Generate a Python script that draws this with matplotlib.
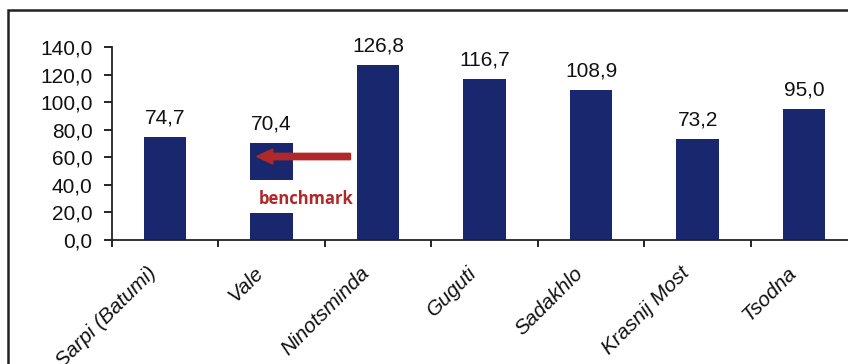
import matplotlib
matplotlib.use("Agg")
import matplotlib.pyplot as plt
from matplotlib.patches import Rectangle, FancyArrow

# border crossing, index value
crossings = ["Sarpi (Batumi)", "Vale", "Ninotsminda", "Guguti",
             "Sadakhlo", "Krasnij Most", "Tsodna"]
values = [74.7, 70.4, 126.8, 116.7, 108.9, 73.2, 95.0]
yticks = [0, 20, 40, 60, 80, 100, 120, 140]
benchmark = "Vale"


def comma(v):
    return f"{v:.1f}".replace(".", ",")


plt.rcParams["font.family"] = ["Liberation Sans", "DejaVu Sans"]

fig = plt.figure(figsize=(8.48, 3.64), dpi=100)
ax = fig.add_axes([0.132, 0.341, 0.879, 0.530])

bar_color = "#19286e"
x = list(range(len(crossings)))
ax.bar(x, values, width=0.40, color=bar_color, zorder=2)

for xi, v in zip(x, values):
    ax.annotate(comma(v), (xi, v), xytext=(0, 7), textcoords="offset points",
                ha="center", va="bottom", fontsize=15, color="#111111")

ax.set_xlim(-0.5, len(crossings) - 0.5)
ax.set_ylim(0, 140)
ax.set_yticks(yticks)
ax.set_yticklabels([comma(v) for v in yticks], fontsize=15, color="#111111")

# category boundaries get the ticks, names sit under the bars
ax.set_xticks([i - 0.5 for i in range(len(crossings) + 1)])
ax.set_xticklabels([])
for xi, name in zip(x, crossings):
    ax.annotate(name, (xi, 0), xycoords=("data", "axes fraction"),
                xytext=(-13, -17), textcoords="offset points",
                rotation=45, rotation_mode="anchor", ha="right", va="top",
                fontsize=15, style="italic", color="#111111",
                annotation_clip=False)
ax.tick_params(axis="x", length=5, width=1.2, direction="out")
ax.tick_params(axis="y", length=6, width=1.2, direction="out", pad=8)

for s in ("top", "right"):
    ax.spines[s].set_visible(False)
for s in ("left", "bottom"):
    ax.spines[s].set_linewidth(1.3)
    ax.spines[s].set_color("#222222")

# benchmark callout on the Vale bar
bi = crossings.index(benchmark)
ax.add_patch(Rectangle((bi - 0.25, 19.6), 1.03, 23.9, facecolor="white",
                       edgecolor="none", zorder=3))
ax.text(bi + 0.32, 29.7, "benchmark", color="#b0282a", fontsize=12,
        fontweight="bold", family=["Open Sans", "DejaVu Sans"],
        ha="center", va="center", zorder=4)
ax.add_patch(FancyArrow(bi + 0.74, 60.5, -0.88, 0, width=4.6,
                        head_width=11, head_length=0.15,
                        length_includes_head=True, color="#b0282a",
                        zorder=4))

# outer frame of the chart area
fig.add_artist(Rectangle((8 / 848, -0.1), 1.2, 1.1 - 10 / 364,
                         transform=fig.transFigure, fill=False,
                         edgecolor="#222222", linewidth=1.8))

fig.savefig("out.png", dpi=100)
